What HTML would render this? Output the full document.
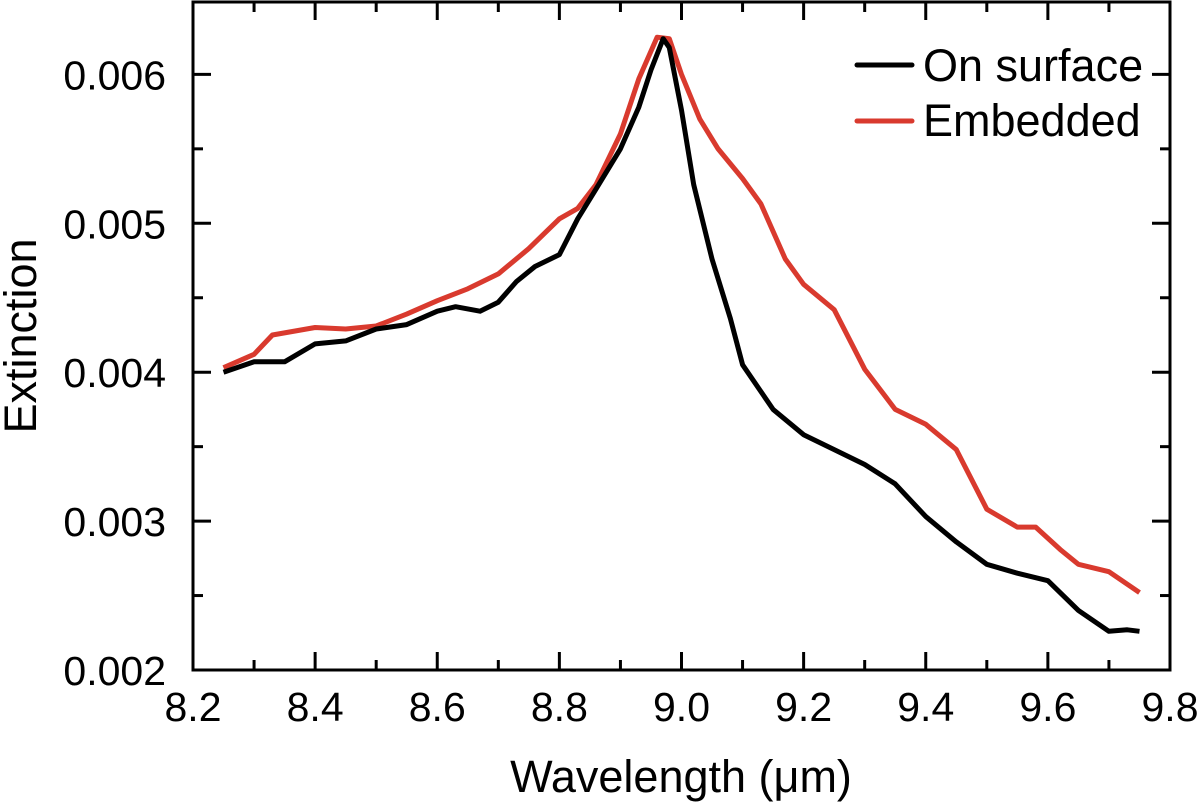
<!DOCTYPE html>
<html><head><meta charset="utf-8"><style>
body{margin:0;background:#fff;}
svg text{font-family:"Liberation Sans",Arial,sans-serif;}
</style></head><body>
<svg id="chart" width="1200" height="807" xmlns="http://www.w3.org/2000/svg">
<g id="ticks"></g>
<g id="series"></g>
<rect x="193" y="2" width="977" height="668" fill="none" stroke="#000" stroke-width="3"/>
<text x="681" y="792" font-size="45" text-anchor="middle">Wavelength (μm)</text>
<text transform="translate(36,336) rotate(-90)" font-size="45" text-anchor="middle">Extinction</text>
<g>
<line x1="857" y1="65" x2="912" y2="65" stroke="#000" stroke-width="5" stroke-linecap="round"/>
<text x="923" y="81" font-size="45">On surface</text>
<line x1="857" y1="121" x2="912" y2="121" stroke="#d93a2e" stroke-width="5" stroke-linecap="round"/>
<text x="923" y="136" font-size="45">Embedded</text>
</g>
</svg>
<script>
const xTicks=[8.2,8.4,8.6,8.8,9.0,9.2,9.4,9.6,9.8];
const xTickLabels=["8.2","8.4","8.6","8.8","9.0","9.2","9.4","9.6","9.8"];
const yTicks=[0.002,0.003,0.004,0.005,0.006];
const yTickLabels=["0.002","0.003","0.004","0.005","0.006"];
const surfX=[8.25,8.30,8.35,8.40,8.45,8.50,8.55,8.60,8.63,8.67,8.70,8.73,8.76,8.80,8.83,8.86,8.90,8.93,8.95,8.97,8.98,9.00,9.02,9.05,9.08,9.10,9.15,9.20,9.25,9.30,9.35,9.40,9.45,9.50,9.55,9.60,9.65,9.70,9.73,9.75];
const surfY=[0.00400,0.00407,0.00407,0.00419,0.00421,0.00429,0.00432,0.00441,0.00444,0.00441,0.00447,0.00461,0.00471,0.00479,0.00503,0.00523,0.00550,0.00578,0.00603,0.00624,0.00618,0.00576,0.00526,0.00476,0.00436,0.00405,0.00375,0.00358,0.00348,0.00338,0.00325,0.00303,0.00286,0.00271,0.00265,0.00260,0.00240,0.00226,0.00227,0.00226];
const embX=[8.25,8.30,8.33,8.40,8.45,8.50,8.55,8.60,8.65,8.70,8.75,8.80,8.83,8.86,8.90,8.93,8.96,8.98,9.00,9.03,9.06,9.10,9.13,9.17,9.20,9.25,9.30,9.35,9.40,9.45,9.50,9.55,9.58,9.62,9.65,9.70,9.75];
const embY=[0.00403,0.00412,0.00425,0.00430,0.00429,0.00431,0.00439,0.00448,0.00456,0.00466,0.00483,0.00503,0.00510,0.00526,0.00560,0.00597,0.00625,0.00624,0.00600,0.00570,0.00550,0.00530,0.00513,0.00476,0.00459,0.00442,0.00402,0.00375,0.00365,0.00348,0.00308,0.00296,0.00296,0.00281,0.00271,0.00266,0.00252];
const X0=193,X1=1170,Y0=670,Y1=2;
const sx=v=>X0+(v-8.2)/(9.8-8.2)*(X1-X0);
const sy=v=>Y0-(v-0.002)/0.001*148.9;
const NS="http://www.w3.org/2000/svg";
const tg=document.getElementById('ticks');
function ln(x1,y1,x2,y2,name){const l=document.createElementNS(NS,'line');l.setAttribute('x1',x1);l.setAttribute('y1',y1);l.setAttribute('x2',x2);l.setAttribute('y2',y2);l.setAttribute('stroke','#000');l.setAttribute('stroke-width','3');


tg.appendChild(l);}
function tx(x,y,s,anchor,name){const t=document.createElementNS(NS,'text');t.setAttribute('x',x);t.setAttribute('y',y);t.setAttribute('font-size','41');t.setAttribute('text-anchor',anchor);t.textContent=s;


tg.appendChild(t);}
xTicks.forEach((v,i)=>{const x=sx(v);ln(x,Y0,x,Y0-18,'x-major-tick');ln(x,Y1,x,Y1+18,'x-major-tick-top');tx(x,Y0+51,xTickLabels[i],'middle','x-tick-label');
if(i<xTicks.length-1){const m=sx(v+0.1);ln(m,Y0,m,Y0-10,'x-minor-tick');ln(m,Y1,m,Y1+10,'x-minor-tick-top');}});
yTicks.forEach((v,i)=>{const y=sy(v);ln(X0,y,X0+18,y,'y-major-tick');ln(X1,y,X1-18,y,'y-major-tick-right');tx(X0-27,y+15,yTickLabels[i],'end','y-tick-label');
const m=sy(v+0.0005);if(m>Y1+5){ln(X0,m,X0+10,m,'y-minor-tick');ln(X1,m,X1-10,m,'y-minor-tick-right');}});
const sg=document.getElementById('series');
function path(xs,ys,color,name){const p=document.createElementNS(NS,'path');p.setAttribute('d',xs.map((v,i)=>(i?'L':'M')+sx(v).toFixed(1)+','+sy(ys[i]).toFixed(1)).join(''));p.setAttribute('fill','none');p.setAttribute('stroke',color);p.setAttribute('stroke-width','5');p.setAttribute('stroke-linejoin','round');


sg.appendChild(p);}
path(embX,embY,'#d93a2e','embedded-line');
path(surfX,surfY,'#000','on-surface-line');
</script>
</body></html>
